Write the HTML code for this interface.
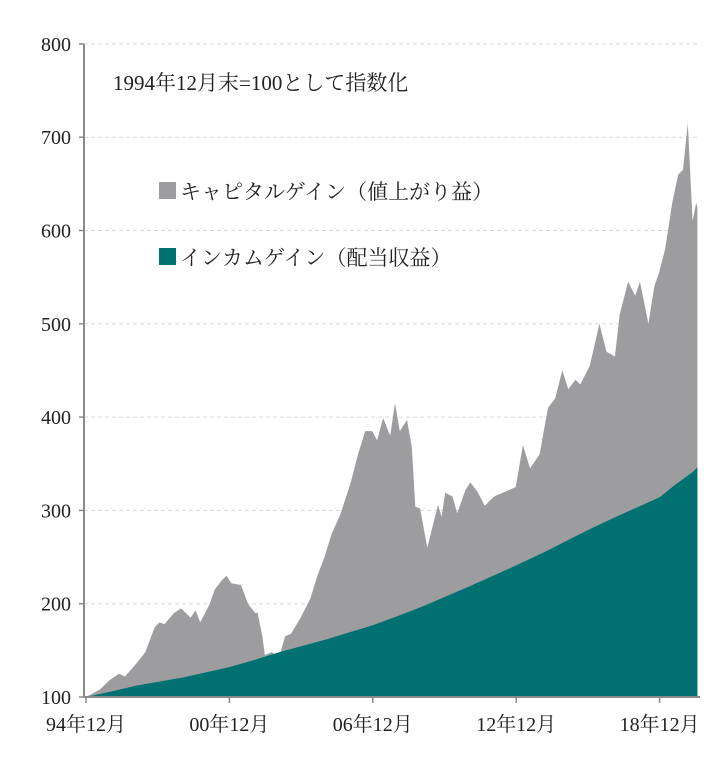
<!DOCTYPE html>
<html><head><meta charset="utf-8">
<style>
html,body{margin:0;padding:0;background:#fff;}
svg text{font-family:"Liberation Serif","Noto Serif CJK JP","Noto Serif CJK SC",serif;fill:#222;}
</style></head>
<body>
<svg id="chart" width="720" height="754" xmlns="http://www.w3.org/2000/svg">
<g id="grid"></g>
<g id="areas"></g>
<g id="axes"></g>
<text x="113" y="90" font-size="21">1994年12月末=100として指数化</text>
<rect x="159" y="182" width="17" height="17" fill="#9d9c9f"/>
<text x="180" y="199" font-size="21">キャピタルゲイン（値上がり益）</text>
<rect x="159" y="248" width="17" height="17" fill="#007070"/>
<text x="180" y="265" font-size="21">インカムゲイン（配当収益）</text>
</svg>
<script>
const totalYears=[1994.92,1995.5,1995.9,1996.3,1996.55,1997.0,1997.4,1997.8,1998.0,1998.2,1998.6,1998.9,1999.3,1999.5,1999.7,2000.1,2000.3,2000.6,2000.8,2001.0,2001.4,2001.7,2002.0,2002.1,2002.3,2002.4,2002.7,2003.0,2003.25,2003.5,2003.9,2004.3,2004.6,2004.9,2005.2,2005.55,2006.0,2006.3,2006.6,2006.9,2007.1,2007.35,2007.65,2007.85,2008.05,2008.35,2008.55,2008.7,2008.9,2009.2,2009.65,2009.8,2009.95,2010.25,2010.45,2010.8,2011.0,2011.3,2011.6,2012.0,2012.45,2012.9,2013.2,2013.5,2013.9,2014.25,2014.55,2014.85,2015.1,2015.4,2015.6,2016.0,2016.4,2016.7,2017.05,2017.25,2017.6,2017.9,2018.1,2018.45,2018.7,2018.9,2019.15,2019.45,2019.7,2019.9,2020.1,2020.3,2020.45,2020.5];
const totalValues=[100,108,118,125,122,135,148,175,180,178,190,195,185,193,180,200,215,225,230,222,220,200,190,190,165,145,148,143,165,168,185,205,230,250,275,295,330,360,385,385,375,399,380,415,385,397,368,304,302,260,306,293,319,315,297,322,330,320,305,315,320,325,370,345,360,410,420,450,430,440,435,455,500,470,465,510,545,530,545,500,540,555,580,630,660,665,715,610,630,625];
const incomeYears=[1994.92,1996.0,1997.0,1999.0,2000.92,2002.0,2003.0,2005.0,2006.92,2008.0,2009.0,2011.0,2012.92,2014.0,2016.0,2017.0,2018.92,2019.6,2020.3,2020.5];
const incomeValues=[100,106,112,121,132,140,148,162,177,187,197,219,241,254,280,292,314,328,341,346];
const yTicks=[100,200,300,400,500,600,700,800];
const xTickYears=[1994.92,2000.92,2006.92,2012.92,2018.92];
const xTickLabels=["94年12月","00年12月","06年12月","12年12月","18年12月"];

const NS="http://www.w3.org/2000/svg";
const X0=86,YR=23.9,Y0=697,PX=0.933,RIGHT=700;
const xs=y=>X0+(y-1994.92)*YR;
const ys=v=>Y0-(v-100)*PX;
function mk(tag,attrs,parent){const e=document.createElementNS(NS,tag);for(const k in attrs)e.setAttribute(k,attrs[k]);parent.appendChild(e);return e;}
const grid=document.getElementById('grid'),areas=document.getElementById('areas'),axes=document.getElementById('axes');

yTicks.forEach(v=>{
  if(v>100){const l=mk('line',{x1:84,x2:RIGHT,y1:ys(v),y2:ys(v),stroke:'#d8d8d8','stroke-width':1,'stroke-dasharray':'4,3'},grid);
  
  }
  const t=mk('text',{x:71,y:ys(v)+7,'font-size':20,'text-anchor':'end'},axes);t.textContent=v;
  
  
});

let d='M'+xs(totalYears[0])+','+ys(100);
totalYears.forEach((y,i)=>{d+=' L'+xs(y).toFixed(1)+','+ys(totalValues[i]).toFixed(1);});
d+=' L'+xs(totalYears[totalYears.length-1]).toFixed(1)+','+Y0+' Z';
const cap=mk('path',{d:d,fill:'#9d9c9f'},areas);



let d2='M'+xs(incomeYears[0])+','+Y0;
incomeYears.forEach((y,i)=>{d2+=' L'+xs(y).toFixed(1)+','+ys(incomeValues[i]).toFixed(1);});
d2+=' L'+xs(incomeYears[incomeYears.length-1]).toFixed(1)+','+Y0+' Z';
const inc=mk('path',{d:d2,fill:'#007070'},areas);



const ya=mk('line',{x1:84,x2:84,y1:44,y2:Y0,stroke:'#8a8a8a','stroke-width':2},axes);


const xa=mk('line',{x1:84,x2:RIGHT,y1:Y0,y2:Y0,stroke:'#8a8a8a','stroke-width':2},axes);


yTicks.forEach(v=>{const t=mk('line',{x1:79,x2:84,y1:ys(v),y2:ys(v),stroke:'#8a8a8a','stroke-width':1.5},axes);
  
  });
xTickYears.forEach((y,i)=>{
  const t=mk('line',{x1:xs(y),x2:xs(y),y1:Y0,y2:Y0+6,stroke:'#8a8a8a','stroke-width':1.5},axes);
  
  
  const l=mk('text',{x:xs(y),y:731,'font-size':20,'text-anchor':'middle'},axes);l.textContent=xTickLabels[i];
  
  
});
</script>
</body></html>
